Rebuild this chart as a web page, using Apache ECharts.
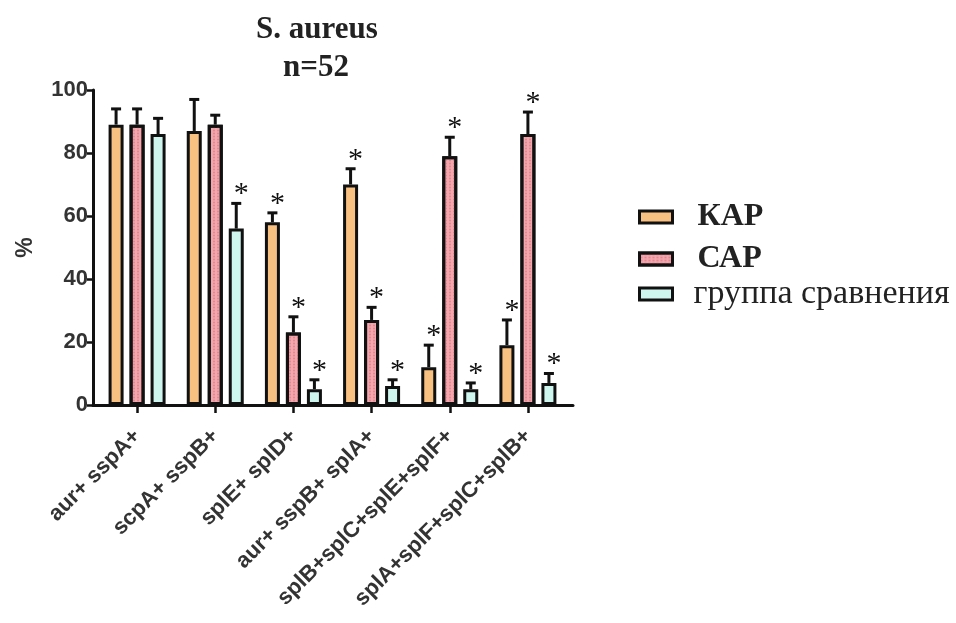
<!DOCTYPE html>
<html>
<head>
<meta charset="utf-8">
<script src="https://cdn.jsdelivr.net/npm/echarts@6/dist/echarts.min.js"></script>
<style>html,body{margin:0;padding:0;background:#fff}#c{width:956px;height:623px}</style>
</head>
<body>
<div id="c"></div>
<script>
const categories = ['aur+ sspA+', 'scpA+ sspB+', 'splE+ splD+', 'aur+ sspB+ splA+', 'splB+splC+splE+splF+', 'splA+splF+splC+splB+'];
const seriesNames = ['КАР', 'САР', 'группа сравнения'];
const kap = [89, 87, 58, 70, 12, 19];
const kapErr = [94, 97, 61, 75, 19, 27];
const kapStar = [0, 0, 1, 1, 1, 1];
const cap = [89, 89, 23, 27, 79, 86];
const capErr = [94, 92, 28, 31, 85, 93];
const capStar = [0, 0, 1, 1, 1, 1];
const comp = [86, 56, 5, 6, 5, 7];
const compErr = [91, 64, 8, 8, 7, 10];
const compStar = [0, 1, 1, 1, 1, 1];
const titleLines = ['S. aureus', 'n=52'];
const yName = '%';

const BAR_W = 15, GAP = 6;
const colors = ['#f8c182', '#f2a6ae', '#cff6ee'];

function errSeries(vals, errs, stars, k) {
  const off = (k - 1) * (BAR_W + GAP);
  return {
    type: 'custom', z: 5,
    data: vals.map((v, i) => [i, v, errs[i], stars[i]]),
    renderItem: function (params, api) {
      const p = api.coord([api.value(0), api.value(1)]);
      const t = api.coord([api.value(0), api.value(2)]);
      const x = p[0] + off;
      const ch = [
        {type: 'line', shape: {x1: x, y1: p[1], x2: x, y2: t[1]}, style: {stroke: '#111', lineWidth: 3}},
        {type: 'line', shape: {x1: x - 5, y1: t[1], x2: x + 5, y2: t[1]}, style: {stroke: '#111', lineWidth: 3}}
      ];
      if (api.value(3)) {
        ch.push({type: 'text', style: {text: '*', x: x + 5, y: t[1] + 6, textAlign: 'center', textVerticalAlign: 'bottom', font: '30px "Liberation Serif"', fill: '#111'}});
      }
      return {type: 'group', children: ch};
    }
  };
}

const barStyle = (c) => ({color: c, borderColor: '#111', borderWidth: 3});
const legendBase = {orient: 'vertical', icon: 'rect', itemWidth: 33, itemHeight: 12, left: 633,
  itemStyle: {borderColor: '#111', borderWidth: 3}};

const chart = echarts.init(document.getElementById('c'));
chart.setOption({
  animation: false,
  backgroundColor: '#fff',
  grid: [
    {left: 98, right: 389, top: 90, bottom: 218},
    {left: 93, right: 383, top: 90, bottom: 218}
  ],
  graphic: [
    {type: 'text', left: 320 - 64, top: 14, style: {text: titleLines[0], font: 'bold 31px "Liberation Serif"', fill: '#222'}},
    {type: 'text', left: 316 - 33, top: 52, style: {text: titleLines[1], font: 'bold 31px "Liberation Serif"', fill: '#222'}}
  ],
  legend: [
    Object.assign({data: [seriesNames[0]], top: 196,
      textStyle: {fontFamily: 'Liberation Serif', fontWeight: 'bold', fontSize: 32, color: '#222', padding: [0, 0, 0, 20]}}, legendBase),
    Object.assign({data: [seriesNames[1]], top: 238,
      textStyle: {fontFamily: 'Liberation Serif', fontWeight: 'bold', fontSize: 32, color: '#222', padding: [0, 0, 0, 20]}}, legendBase),
    Object.assign({data: [seriesNames[2]], top: 272,
      textStyle: {fontFamily: 'Liberation Serif', fontSize: 34, color: '#222', padding: [0, 0, 0, 16]}}, legendBase)
  ],
  xAxis: [
    {type: 'category', data: categories, gridIndex: 0,
      axisLine: {show: false},
      axisTick: {show: true, alignWithLabel: true, length: 8, lineStyle: {color: '#111', width: 2.5}},
      axisLabel: {rotate: 45, interval: 0, margin: 28, fontFamily: 'Liberation Sans', fontWeight: 'bold', fontSize: 22, color: '#333'}},
    {type: 'value', gridIndex: 1, min: 0, max: 1,
      axisLine: {show: true, lineStyle: {color: '#111', width: 3}},
      axisTick: {show: false}, axisLabel: {show: false}, splitLine: {show: false}}
  ],
  yAxis: [
    {type: 'value', gridIndex: 0, min: 0, max: 100, interval: 20, offset: 5,
      name: yName, nameLocation: 'middle', nameGap: 56, nameRotate: 90,
      nameTextStyle: {fontFamily: 'Liberation Sans', fontWeight: 'bold', fontSize: 23, color: '#333'},
      axisLine: {show: true, lineStyle: {color: '#111', width: 3}},
      axisTick: {show: true, length: 6, lineStyle: {color: '#111', width: 2.5}},
      axisLabel: {margin: 5, fontFamily: 'Liberation Sans', fontWeight: 'bold', fontSize: 22, color: '#333'},
      splitLine: {show: false}},
    {type: 'value', gridIndex: 1, show: false, min: 0, max: 1}
  ],
  series: [
    {name: seriesNames[0], type: 'bar', data: kap, barWidth: BAR_W, barGap: (GAP / BAR_W * 100) + '%', itemStyle: barStyle(colors[0])},
    {name: seriesNames[1], type: 'bar', data: cap, barWidth: BAR_W, itemStyle: Object.assign(barStyle(colors[1]), {
      decal: {symbol: 'circle', symbolSize: 0.6, dashArrayX: [4, 0], dashArrayY: [3, 0], color: 'rgba(214,96,112,0.55)'}})},
    {name: seriesNames[2], type: 'bar', data: comp, barWidth: BAR_W, itemStyle: barStyle(colors[2])},
    errSeries(kap, kapErr, kapStar, 0),
    errSeries(cap, capErr, capStar, 1),
    errSeries(comp, compErr, compStar, 2)
  ]
});
</script>
</body>
</html>
